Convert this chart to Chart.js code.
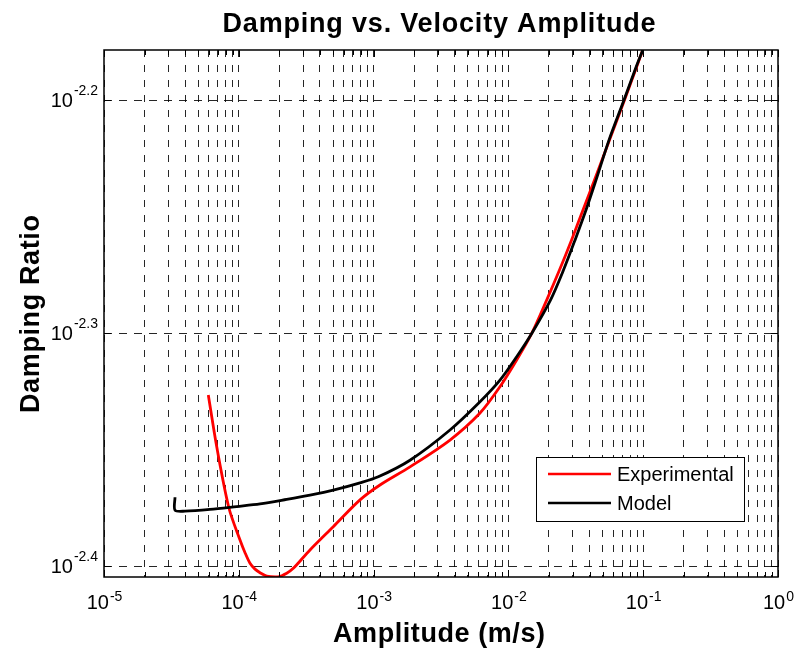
<!DOCTYPE html>
<html>
<head>
<meta charset="utf-8">
<script src="https://cdn.jsdelivr.net/npm/chart.js@4.4.0/dist/chart.umd.min.js"></script>
<style>
  html, body { margin: 0; padding: 0; background: #fff; }
  #wrap { width: 796px; height: 654px; }
</style>
</head>
<body>
<div id="wrap"><canvas id="chart"></canvas></div>
<script>
// text
var titleText = 'Damping vs. Velocity Amplitude';
var xTitle = 'Amplitude (m/s)';
var yTitle = 'Damping Ratio';
var seriesNames = ['Experimental', 'Model'];

// experimental curve (amplitude m/s, damping ratio)
var expAmp = [5.94e-5, 6.86e-5, 8.46e-5, 1.021e-4, 1.112e-4, 1.211e-4, 1.319e-4, 1.437e-4, 1.611e-4,
  1.963e-4, 2.266e-4, 2.537e-4, 3.375e-4, 5.023e-4, 7.93e-4, 1.115e-3, 1.862e-3, 3.687e-3,
  6.157e-3, 8.66e-3, 1.152e-2, 1.489e-2, 1.923e-2, 2.393e-2, 2.938e-2, 3.576e-2, 4.352e-2,
  5.623e-2, 7.266e-2, 8.767e-2, 9.92e-2];
var expDamp = [0.004714, 0.004479, 0.004215, 0.004085, 0.004034, 0.003992, 0.003969, 0.003955, 0.003942,
  0.003939, 0.003953, 0.003972, 0.004045, 0.004139, 0.004250, 0.004313, 0.004391, 0.004509,
  0.004631, 0.004753, 0.004880, 0.005010, 0.005178, 0.005334, 0.005494, 0.005660, 0.005830,
  0.006065, 0.006310, 0.006500, 0.006629];

// model curve
var modelAmp = [3.363e-5, 3.363e-5, 3.99e-5, 6.113e-5, 9.65e-5, 1.437e-4, 2.266e-4, 3.375e-4, 5.023e-4,
  7.93e-4, 1.083e-3, 1.862e-3, 3.687e-3, 6.157e-3, 8.66e-3, 1.152e-2, 1.489e-2, 2.052e-2,
  2.563e-2, 3.119e-2, 3.764e-2, 4.466e-2, 5.575e-2, 7.204e-2, 8.696e-2, 9.92e-2];
var modelDamp = [0.004261, 0.004207, 0.004203, 0.004210, 0.004222, 0.004233, 0.004252, 0.004270, 0.004291,
  0.004322, 0.004348, 0.004420, 0.004554, 0.004683, 0.004784, 0.004896, 0.005010, 0.005178,
  0.005334, 0.005494, 0.005660, 0.005830, 0.006065, 0.006310, 0.006500, 0.006629];

// tick exponents and axis limits (log10)
var xMajorExp = [-5, -4, -3, -2, -1, 0];
var yMajorExp = [-2.4, -2.3, -2.2];
var yLimExp = [-2.4047, -2.1785];

var xTickVals = [];
xMajorExp.forEach(function (e, i) {
  if (i < xMajorExp.length - 1) {
    for (var m = 1; m < 10; m++) xTickVals.push(m * Math.pow(10, e));
  } else {
    xTickVals.push(Math.pow(10, e));
  }
});
var yTickVals = yMajorExp.map(function (e) { return Math.pow(10, e); });

function pts(xs, ys) {
  return xs.map(function (x, i) { return { x: x, y: ys[i] }; });
}

var FONT = 'Arial, "Liberation Sans", sans-serif';

function powLabel(ctx, exp, x, y, align, supRise) {
  ctx.font = '20px ' + FONT;
  var wb = ctx.measureText('10').width;
  ctx.font = '14px ' + FONT;
  var we = ctx.measureText(exp).width;
  var x0 = align === 'center' ? x - (wb + we) / 2 : x - (wb + we);
  ctx.textAlign = 'left';
  ctx.textBaseline = 'alphabetic';
  ctx.font = '20px ' + FONT;
  ctx.fillText('10', x0, y);
  ctx.font = '14px ' + FONT;
  ctx.fillText(exp, x0 + wb + 1, y - supRise);
}

function fitText(ctx, text, cx, y, target) {
  ctx.font = 'bold 27px ' + FONT;
  ctx.letterSpacing = '0px';
  var w = ctx.measureText(text).width;
  var sp = (target - w) / (text.length - 1);
  ctx.letterSpacing = sp.toFixed(2) + 'px';
  ctx.textAlign = 'left';
  ctx.textBaseline = 'alphabetic';
  ctx.fillText(text, cx - target / 2, y);
  ctx.letterSpacing = '0px';
}

var decor = {
  id: 'decor',
  afterDatasetsDraw: function (chart) {
    var ctx = chart.ctx, a = chart.chartArea;
    var xs = chart.scales.x, ys = chart.scales.y;
    ctx.save();
    ctx.strokeStyle = '#000';
    ctx.fillStyle = '#000';
    ctx.lineWidth = 1;

    // inward tick marks
    xTickVals.forEach(function (v) {
      var px = Math.round(xs.getPixelForValue(v)) + 0.5;
      var lg = Math.log10(v);
      var len = Math.abs(lg - Math.round(lg)) < 1e-9 ? 7 : 5;
      ctx.beginPath();
      ctx.moveTo(px, a.bottom); ctx.lineTo(px, a.bottom - len);
      ctx.moveTo(px, a.top); ctx.lineTo(px, a.top + len);
      ctx.stroke();
    });
    yTickVals.forEach(function (v) {
      var py = Math.round(ys.getPixelForValue(v)) + 0.5;
      ctx.beginPath();
      ctx.moveTo(a.left, py); ctx.lineTo(a.left + 7, py);
      ctx.moveTo(a.right, py); ctx.lineTo(a.right - 7, py);
      ctx.stroke();
    });

    // frame
    ctx.lineWidth = 1.5;
    ctx.strokeRect(a.left, a.top, a.right - a.left, a.bottom - a.top);

    // tick labels
    xMajorExp.forEach(function (e) {
      powLabel(ctx, String(e), xs.getPixelForValue(Math.pow(10, e)), a.bottom + 32, 'center', 8);
    });
    yMajorExp.forEach(function (e) {
      powLabel(ctx, e.toFixed(1), a.left - 7, ys.getPixelForValue(Math.pow(10, e)) + 7, 'right', 12);
    });

    // titles
    fitText(ctx, titleText, (a.left + a.right) / 2 - 2, 32, 433);
    fitText(ctx, xTitle, (a.left + a.right) / 2 - 2, 642, 212);
    ctx.save();
    ctx.translate(39, 314);
    ctx.rotate(-Math.PI / 2);
    fitText(ctx, yTitle, 0, 0, 198);
    ctx.restore();

    // legend
    var lx = 536, ly = 457, lw = 208, lh = 64;
    ctx.fillStyle = '#fff';
    ctx.fillRect(lx, ly, lw, lh);
    ctx.lineWidth = 1;
    ctx.strokeStyle = '#000';
    ctx.strokeRect(lx + 0.5, ly + 0.5, lw, lh);
    chart.data.datasets.forEach(function (ds, i) {
      var yy = ly + 17 + i * 29;
      ctx.strokeStyle = ds.borderColor;
      ctx.lineWidth = 2.5;
      ctx.beginPath();
      ctx.moveTo(lx + 12, yy); ctx.lineTo(lx + 75, yy);
      ctx.stroke();
      ctx.fillStyle = '#000';
      ctx.font = '20px ' + FONT;
      ctx.textAlign = 'left';
      ctx.textBaseline = 'middle';
      ctx.fillText(ds.label, lx + 81, yy + 1);
    });
    ctx.restore();
  }
};

new Chart(document.getElementById('chart').getContext('2d'), {
  type: 'line',
  data: {
    datasets: [{
      label: seriesNames[0],
      data: pts(expAmp, expDamp),
      borderColor: '#ff0000',
      borderWidth: 2.8,
      pointRadius: 0,
      tension: 0.3,
      order: 1
    }, {
      label: seriesNames[1],
      data: pts(modelAmp, modelDamp),
      borderColor: '#000000',
      borderWidth: 2.8,
      pointRadius: 0,
      tension: 0.3,
      order: 0
    }]
  },
  options: {
    responsive: true,
    maintainAspectRatio: false,
    animation: false,
    layout: { padding: { left: 104, top: 50, right: 18, bottom: 77 } },
    plugins: { legend: { display: false }, tooltip: { enabled: false } },
    scales: {
      x: {
        type: 'logarithmic',
        bounds: 'data',
        min: Math.pow(10, xMajorExp[0]),
        max: Math.pow(10, xMajorExp[xMajorExp.length - 1]),
        afterBuildTicks: function (s) { s.ticks = xTickVals.map(function (v) { return { value: v }; }); },
        ticks: { display: false },
        grid: { color: 'rgba(0,0,0,0.85)', lineWidth: 1, drawTicks: false },
        border: { display: false, dash: [7, 8] }
      },
      y: {
        type: 'logarithmic',
        bounds: 'data',
        min: Math.pow(10, yLimExp[0]),
        max: Math.pow(10, yLimExp[1]),
        afterBuildTicks: function (s) { s.ticks = yTickVals.map(function (v) { return { value: v }; }); },
        ticks: { display: false },
        grid: { color: 'rgba(0,0,0,0.85)', lineWidth: 1, drawTicks: false },
        border: { display: false, dash: [8, 7] }
      }
    }
  },
  plugins: [decor]
});
</script>
</body>
</html>
